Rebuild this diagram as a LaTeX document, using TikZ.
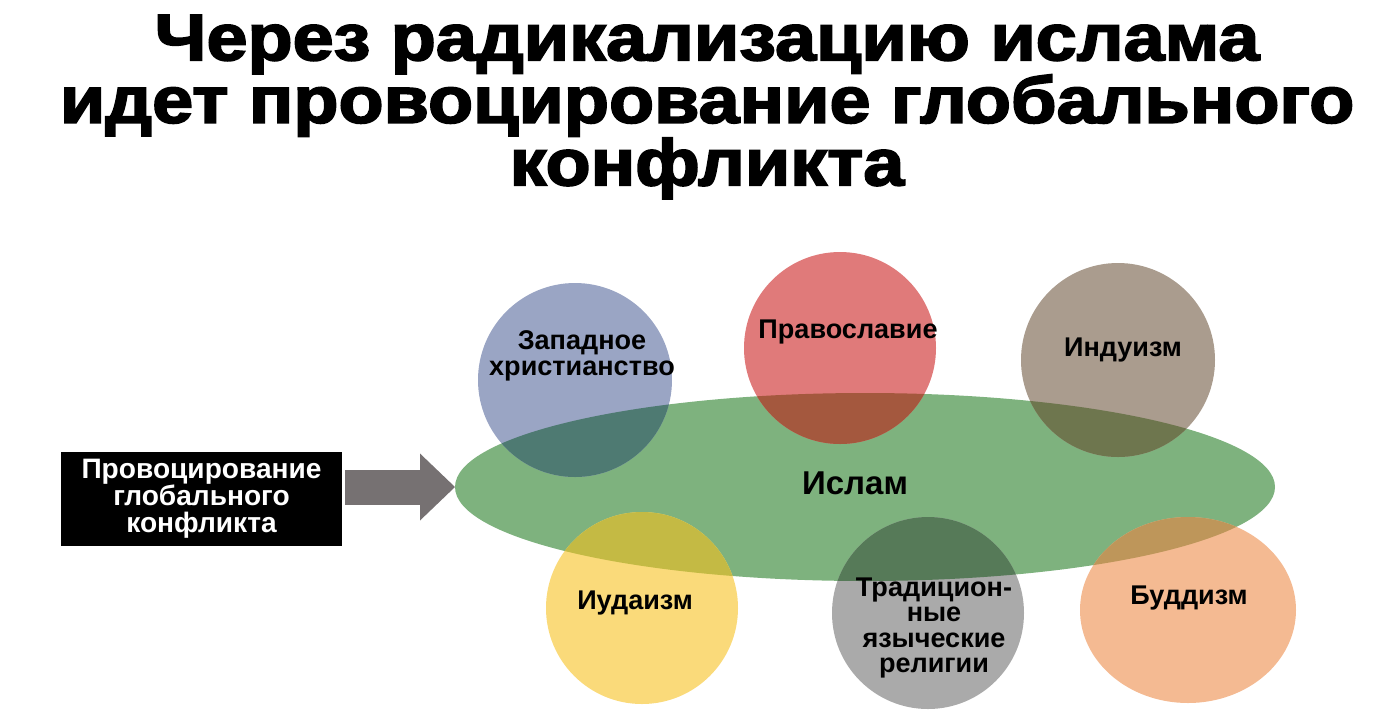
\documentclass[tikz,border=0pt]{standalone}
\usepackage{fontspec}
\setmainfont{Liberation Sans}
\newfontfamily\titlefont{Liberation Sans}[BoldFeatures={FakeBold=2.5}]
\usetikzlibrary{arrows.meta}

\begin{document}
\begin{tikzpicture}[x=0.02cm, y=-0.02cm,
  faith/.style={font=\bfseries\fontsize{15.4}{14.6}\selectfont, align=center, inner sep=0pt},
  ]

\useasboundingbox (0,0) rectangle (1377,725);

\coordinate (I) at (865,487); % islam (ellipse centre)
\coordinate (W) at (575,380); % western christianity
\coordinate (O) at (840,348); % orthodoxy
\coordinate (H) at (1118,360); % hinduism
\coordinate (J) at (642,608); % judaism
\coordinate (P) at (928,613); % traditional pagan religions
\coordinate (B) at (1188,610); % buddhism
\coordinate (Iw) at (455,487); % west end of the ellipse, arrow tip

% title, widened a little
\begin{scope}[shift={(707,107)}, xscale=1.12]
\node[transform shape, font=\titlefont\bfseries\fontsize{37.5}{35.6}\selectfont, align=center] (title) at (0,0) {Через радикализацию ислама\\идет провоцирование глобального\\конфликта};
\end{scope}

% plain fills
\fill[color={rgb,255:red,126;green,178;blue,126}] (I) ellipse [x radius=410, y radius=94]; % islam
\fill[color={rgb,255:red,154;green,165;blue,196}] (W) circle [radius=97];
\fill[color={rgb,255:red,224;green,122;blue,122}] (O) circle [radius=96];
\fill[color={rgb,255:red,170;green,156;blue,142}] (H) circle [radius=97];
\fill[color={rgb,255:red,250;green,218;blue,122}] (J) circle [radius=96];
\fill[color={rgb,255:red,170;green,170;blue,170}] (P) circle [radius=96];
\fill[color={rgb,255:red,244;green,186;blue,146}] (B) ellipse [x radius=108, y radius=93];

% darker overlaps with the islam ellipse
\begin{scope}
\clip (I) ellipse [x radius=410, y radius=94];
\fill[color={rgb,255:red,78;green,122;blue,114}] (W) circle [radius=97];
\fill[color={rgb,255:red,164;green,88;blue,62}] (O) circle [radius=96];
\fill[color={rgb,255:red,110;green,118;blue,78}] (H) circle [radius=97];
\fill[color={rgb,255:red,196;green,186;blue,68}] (J) circle [radius=96];
\fill[color={rgb,255:red,86;green,122;blue,88}] (P) circle [radius=96];
\fill[color={rgb,255:red,190;green,150;blue,90}] (B) ellipse [x radius=108, y radius=93];
\end{scope}

% black box and the arrow into the ellipse
\node[fill=black, text=white, minimum width=5.62cm, minimum height=1.88cm, font=\bfseries\fontsize{16}{15.4}\selectfont, align=center] (provoc) at (201.5,499) {Провоцирование\\глобального\\конфликта};
\draw[line width=0.7cm, color={rgb,255:red,118;green,113;blue,114}, -{Triangle[length=0.7cm, width=1.34cm, line width=0pt]}, shorten <=0.06cm] (provoc.east |- Iw) -- (Iw);

% labels
\node[faith] (west) at (582,356) {Западное\\христианство};
\node[faith] (orth) at (848,332) {Православие};
\node[faith] (hindu) at (1123,350) {Индуизм};
\node[faith, font=\bfseries\fontsize{18.8}{20}\selectfont] (islam) at (855,483) {Ислам};
\node[faith] (judaism) at (635,603) {Иудаизм};
\node[faith] (pagan) at (934,628) {Традицион-\\ные\\языческие\\религии};
\node[faith] (buddhism) at (1189,598) {Буддизм};

\end{tikzpicture}
\end{document}
